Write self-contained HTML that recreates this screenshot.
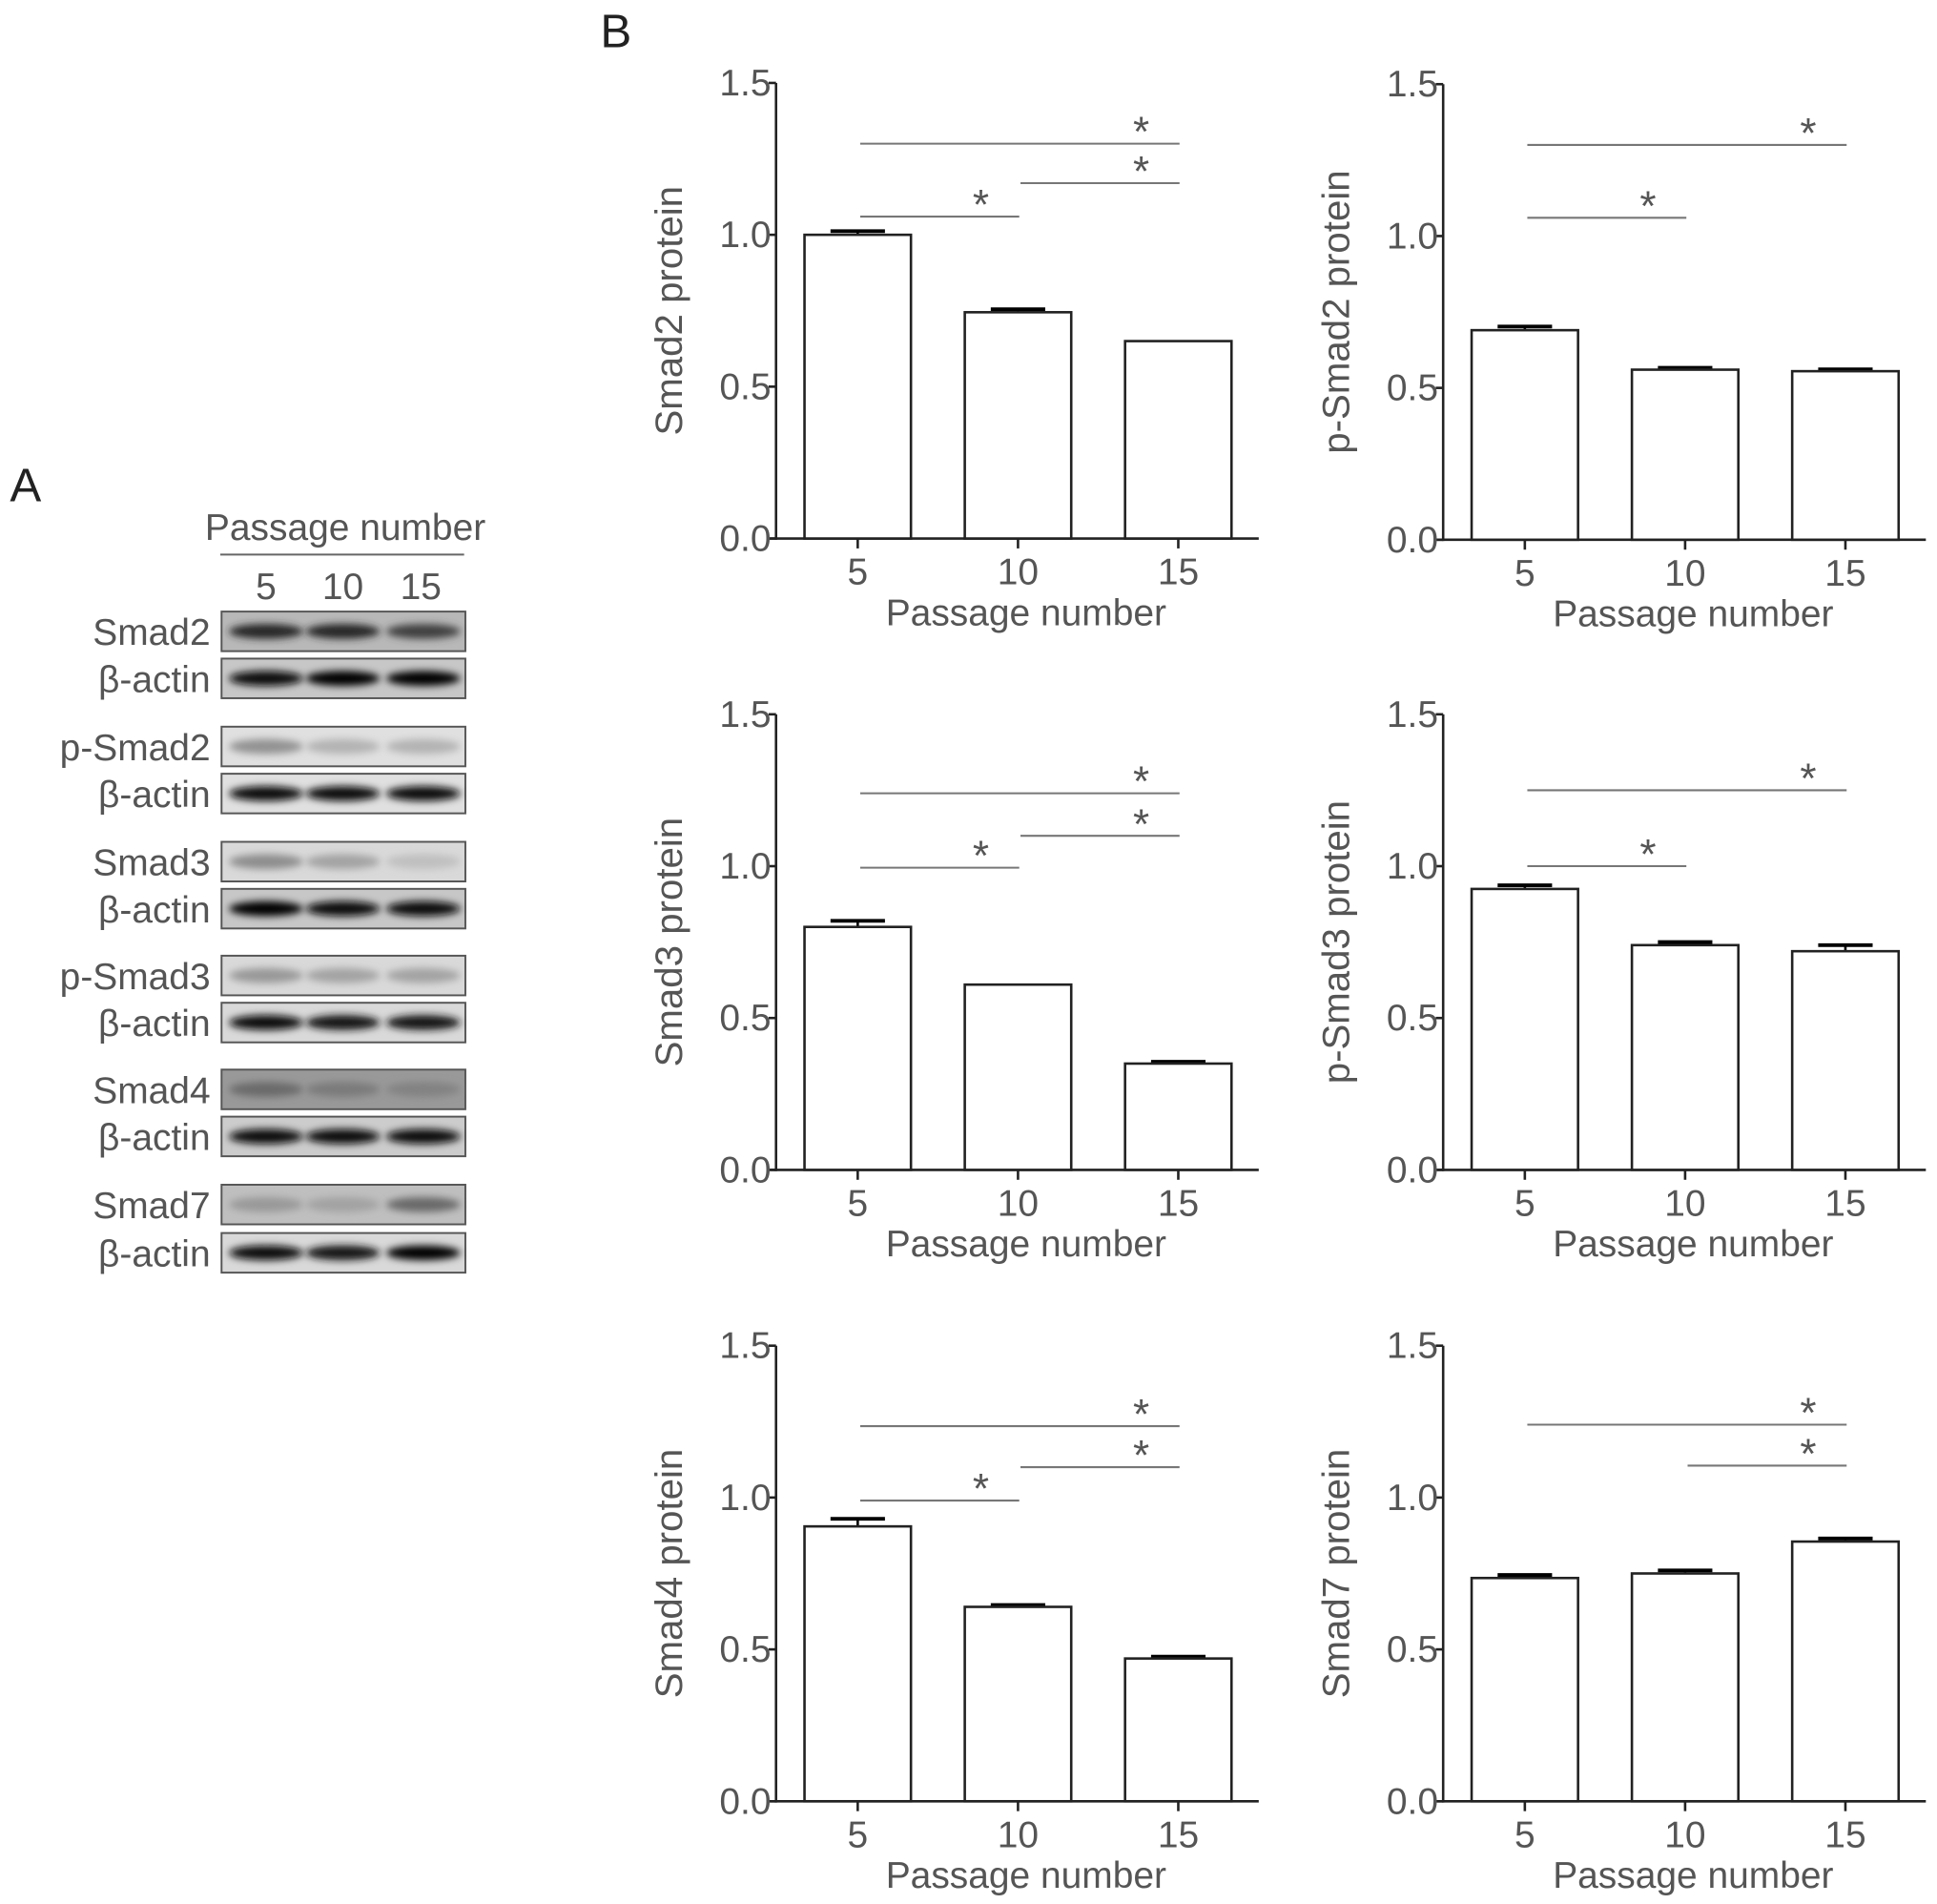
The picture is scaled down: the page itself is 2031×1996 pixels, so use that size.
<!DOCTYPE html>
<html><head><meta charset="utf-8">
<style>
html,body{margin:0;padding:0;background:#fff;}
svg{display:block;font-family:"Liberation Sans",sans-serif;}
</style></head>
<body>
<svg id="fig" width="2031" height="1996" viewBox="0 0 1565 1538" preserveAspectRatio="none" xmlns="http://www.w3.org/2000/svg">
<defs><filter id="blur" x="-20%" y="-100%" width="140%" height="300%"><feGaussianBlur stdDeviation="3"/></filter></defs>
<g id="blots"></g>
<g id="charts"></g>
</svg>
<script>
const NS="http://www.w3.org/2000/svg";
function mk(parent,tag,attrs,text){const e=document.createElementNS(NS,tag);for(const k in attrs)e.setAttribute(k,attrs[k]);if(text!==undefined)e.textContent=text;parent.appendChild(e);return e;}

// ---- Chart data ----
const categories=["5","10","15"];
const titles=["Smad2 protein","p-Smad2 protein","Smad3 protein","p-Smad3 protein","Smad4 protein","Smad7 protein"];
const smad2Values=[1.0,0.745,0.65];
const psmad2Values=[0.69,0.56,0.555];
const smad3Values=[0.80,0.61,0.35];
const psmad3Values=[0.925,0.74,0.72];
const smad4Values=[0.905,0.64,0.47];
const smad7Values=[0.735,0.75,0.855];
const smad2Err=[0.012,0.01,0.0];
const psmad2Err=[0.012,0.006,0.006];
const smad3Err=[0.02,0.0,0.006];
const psmad3Err=[0.012,0.01,0.02];
const smad4Err=[0.025,0.006,0.006];
const smad7Err=[0.01,0.01,0.01];
const yTicks=[0,0.5,1.0,1.5];
const yTickLabels=["0.0","0.5","1.0","1.5"];
// significance brackets: [fromIndex,toIndex,level]
const smad2Sig=[[0,2,1.30],[1,2,1.17],[0,1,1.06]];
const psmad2Sig=[[0,2,1.30],[0,1,1.06]];
const smad3Sig=[[0,2,1.24],[1,2,1.10],[0,1,0.995]];
const psmad3Sig=[[0,2,1.25],[0,1,1.0]];
const smad4Sig=[[0,2,1.235],[1,2,1.10],[0,1,0.99]];
const smad7Sig=[[0,2,1.24],[1,2,1.105]];

const seriesVals=[smad2Values,psmad2Values,smad3Values,psmad3Values,smad4Values,smad7Values];
const seriesErr=[smad2Err,psmad2Err,smad3Err,psmad3Err,smad4Err,smad7Err];
const seriesSig=[smad2Sig,psmad2Sig,smad3Sig,psmad3Sig,smad4Sig,smad7Sig];
const slugs=["smad2","p-smad2","smad3","p-smad3","smad4","smad7"];

const charts=document.getElementById('charts');
mk(charts,'text',{x:485,y:38,'font-size':38,fill:'#222'},'B');

const layout=[{x0:627,y0:435},{x0:1166,y0:436},{x0:627,y0:945},{x0:1166,y0:945},{x0:627,y0:1455},{x0:1166,y0:1455}];
layout.forEach((L,ci)=>{
  const g=mk(charts,'g',{});
  
  
  const H=368, x0=L.x0, y0=L.y0, xEnd=x0+390;
  const y=v=>y0-v/1.5*H;
  const xc=i=>x0+66+i*129.5;
  const col='#222';
  const ya=mk(g,'line',{x1:x0,y1:y(1.5),x2:x0,y2:y0+1,stroke:col,'stroke-width':2});
  
  const xa=mk(g,'line',{x1:x0-5,y1:y0,x2:xEnd,y2:y0,stroke:col,'stroke-width':2});
  
  yTicks.forEach((t,i)=>{
    mk(g,'line',{x1:x0-6,y1:y(t),x2:x0,y2:y(t),stroke:col,'stroke-width':2});
    const tl=mk(g,'text',{x:x0-4,y:y(t)+10,'text-anchor':'end','font-size':30,fill:'#555'},yTickLabels[i]);
    
  });
  const vals=seriesVals[ci], err=seriesErr[ci];
  categories.forEach((c,i)=>{
    const cx=xc(i);
    mk(g,'line',{x1:cx,y1:y0,x2:cx,y2:y0+8,stroke:col,'stroke-width':2});
    const xl=mk(g,'text',{x:cx,y:y0+37,'text-anchor':'middle','font-size':30,fill:'#555'},c);
    
    if(err[i]>0){
      const ey=y(vals[i]+err[i]);
      mk(g,'line',{x1:cx,y1:y(vals[i]),x2:cx,y2:ey,stroke:'#000','stroke-width':2});
      mk(g,'line',{x1:cx-22,y1:ey,x2:cx+22,y2:ey,stroke:'#000','stroke-width':3});
    }
    const b=mk(g,'rect',{x:cx-43,y:y(vals[i]),width:86,height:y0-y(vals[i]),fill:'#fff',stroke:col,'stroke-width':2});
    
  });
  seriesSig[ci].forEach(s=>{
    const yy=y(s[2]);
    const ln=mk(g,'line',{x1:xc(s[0])+2,y1:yy,x2:xc(s[1])+1,y2:yy,stroke:'#777','stroke-width':1.6});
    
    const st=mk(g,'text',{x:xc(s[1])-30,y:yy+2,'text-anchor':'middle','font-size':34,fill:'#555'},'*');
    
  });
  const yt=mk(g,'text',{x:0,y:0,'text-anchor':'middle','font-size':31,fill:'#555',transform:`translate(${x0-76},${y(0.75)}) rotate(-90)`},titles[ci]);
  
  const xt=mk(g,'text',{x:x0+202,y:y0+70,'text-anchor':'middle','font-size':30,fill:'#555'},'Passage number');
  
});

// ---- Western blot ----
const blotLabels=["Smad2","β-actin","p-Smad2","β-actin","Smad3","β-actin","p-Smad3","β-actin","Smad4","β-actin","Smad7","β-actin"];
const blotTops=[494,532,587,625,680,718,772,810,864,902,957,996];
const bandDark=[[0.8,0.8,0.65],[0.95,1,1],[0.35,0.2,0.2],[0.95,0.95,0.95],[0.35,0.25,0.12],[1,0.95,0.95],[0.3,0.25,0.25],[0.95,0.9,0.9],[0.3,0.2,0.15],[0.95,0.95,0.95],[0.2,0.15,0.45],[0.95,0.9,1]];
const bandBg=[0.72,0.78,0.88,0.88,0.85,0.78,0.85,0.85,0.6,0.8,0.75,0.85];
const blots=document.getElementById('blots');
mk(blots,'text',{x:8,y:405,'font-size':38,fill:'#222'},'A');
mk(blots,'text',{x:279,y:436,'text-anchor':'middle','font-size':30,fill:'#555'},'Passage number');
mk(blots,'line',{x1:178,y1:448,x2:375,y2:448,stroke:'#666','stroke-width':1.5});
categories.forEach((c,i)=>{mk(blots,'text',{x:[215,277,340][i],y:484,'text-anchor':'middle','font-size':30,fill:'#555'},c);});
const laneX=[215,277,342];
blotLabels.forEach((lab,r)=>{
  const t=blotTops[r];
  const g=mk(blots,'g',{});
  
  const bg=Math.round(255*bandBg[r]);
  mk(g,'rect',{x:179,y:t,width:197,height:32,fill:`rgb(${bg},${bg},${bg})`,stroke:'#555','stroke-width':1.5});
  bandDark[r].forEach((d,i)=>{
    const v=Math.round(bg*(1-d));
    mk(g,'ellipse',{cx:laneX[i],cy:t+16,rx:30,ry:6,fill:`rgb(${v},${v},${v})`,filter:'url(#blur)'});
  });
  mk(g,'text',{x:170,y:t+27,'text-anchor':'end','font-size':30,fill:'#555'},lab);
});
</script>
</body></html>
